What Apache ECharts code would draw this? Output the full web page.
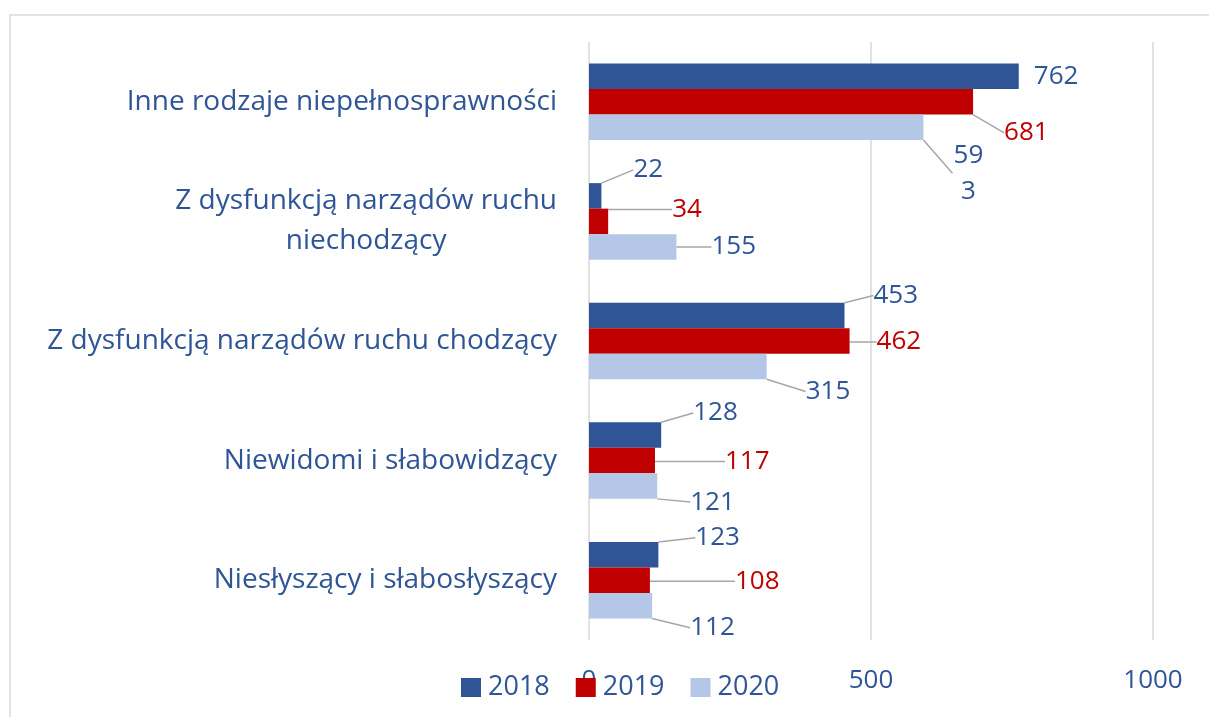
<!DOCTYPE html>
<html>
<head>
<meta charset="utf-8">
<script src="https://cdn.jsdelivr.net/npm/echarts@6/dist/echarts.min.js"></script>
<style>html,body{margin:0;padding:0;background:#fff;}#c{width:1209px;height:717px;}</style>
</head>
<body>
<div id="c"></div>
<script>
// Categories (top to bottom)
const categories = [
  'Inne rodzaje niepełnosprawności',
  'Z dysfunkcją narządów ruchu\nniechodzący',
  'Z dysfunkcją narządów ruchu chodzący',
  'Niewidomi i słabowidzący',
  'Niesłyszący i słabosłyszący'
];
const seriesNames = ['2018', '2019', '2020'];
const values2018 = [762, 22, 453, 128, 123];
const values2019 = [681, 34, 462, 117, 108];
const values2020 = [593, 155, 315, 121, 112];
const xTicks = [0, 500, 1000];

// label offsets (leader-line placement) [dx, dy] per series / category
const offsets = [
  [[0,0],[17,-26],[14,-20],[17,-22],[22,-17]],
  [[16,31],[49,-12],[12,1],[55,1],[70,1]],
  [[30,46],[20,0],[24,25],[18,16],[23,22]]
];
const colors = ['#2F5597', '#C00000', '#B4C7E7'];
const labelColors = ['#2F5597', '#C00000', '#2F5597'];
const FONT = 'Open Sans';
const FS_DATA = 26, FS_AXIS = 26, FS_LEG = 27, FS_CAT = 28;

function textWidth(t) {
  const ctx = document.createElement('canvas').getContext('2d');
  ctx.font = FS_CAT + 'px "' + FONT + '"';
  return ctx.measureText(t).width;
}

const chart = echarts.init(document.getElementById('c'));
const allValues = [values2018, values2019, values2020];
const series = allValues.map((vals, si) => ({
  name: seriesNames[si],
  type: 'bar',
  barGap: '0%',
  barCategoryGap: '36%',
  itemStyle: { color: colors[si] },
  data: vals.map((v, ci) => {
    const d = { value: v };
    if (si === 2 && ci === 0) {
      d.label = { width: 32, overflow: 'breakAll', align: 'center', lineHeight: 36 };
    }
    if (si === 0 && ci === 0) {
      d.labelLine = { show: false };
    }
    return d;
  }),
  label: {
    show: true,
    position: 'right',
    distance: 15,
    color: labelColors[si],
    fontFamily: FONT,
    fontSize: FS_DATA
  },
  labelLine: { show: true, lineStyle: { color: '#A6A6A6', width: 1.5 } },
  labelLayout: function (p) {
    const o = offsets[p.seriesIndex][p.dataIndex];
    return { dx: o[0], dy: o[1] };
  }
}));

document.fonts.load(FS_CAT + 'px "' + FONT + '"').then(render, render);
function render() {
const multiW = Math.max.apply(null, categories[1].split('\n').map(textWidth));
chart.setOption({
  animation: false,
  textStyle: { fontFamily: FONT },
  graphic: [{
    type: 'rect', shape: { x: 10, y: 15, width: 1300, height: 800 },
    style: { fill: 'none', stroke: '#D9D9D9', lineWidth: 1.5 }, z: -10
  }],
  grid: { left: 589, right: 56, top: 42, bottom: 77, containLabel: false },
  legend: {
    data: seriesNames,
    left: 461, top: 674, padding: 0,
    itemWidth: 20, itemHeight: 19, itemGap: 26,
    icon: 'rect',
    textStyle: { color: '#2F5597', fontSize: FS_LEG, fontFamily: FONT, lineHeight: 19, padding: [0,0,0,2] }
  },
  xAxis: {
    type: 'value', min: xTicks[0], max: xTicks[xTicks.length - 1], interval: 500,
    axisLine: { show: false }, axisTick: { show: false },
    splitLine: { show: true, lineStyle: { color: '#D9D9D9', width: 1.5 } },
    axisLabel: { color: '#2F5597', fontSize: FS_AXIS, fontFamily: FONT, margin: 28,
      formatter: v => String(v) }
  },
  yAxis: {
    type: 'category', inverse: true, data: categories,
    axisLine: { show: false }, axisTick: { show: false },
    axisLabel: {
      color: '#2F5597', fontSize: FS_CAT, fontFamily: FONT, margin: 32, lineHeight: 40, align: 'right',
      formatter: function (v) {
        if (v.indexOf('\n') < 0) return v;
        return v.split('\n').map(l => '{c|' + l + '}').join('\n');
      },
      rich: { c: { width: multiW, align: 'center', fontSize: FS_CAT, fontFamily: FONT, color: '#2F5597', lineHeight: 40 } }
    }
  },
  series: series
});
}
</script>
</body>
</html>
